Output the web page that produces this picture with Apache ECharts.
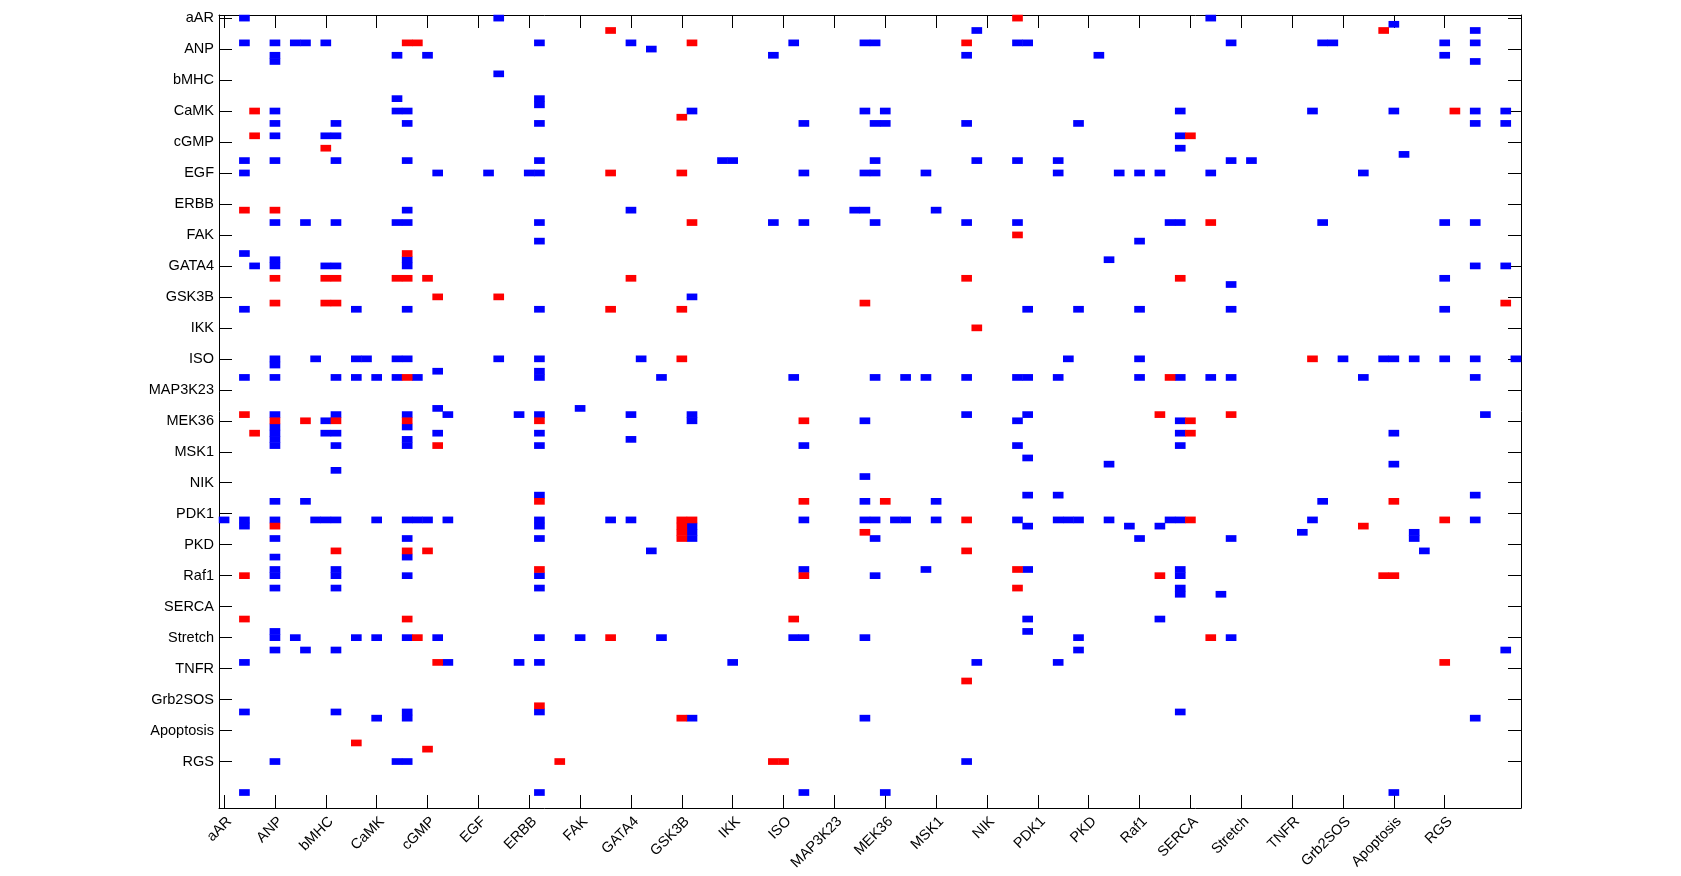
<!DOCTYPE html>
<html><head><meta charset="utf-8">
<script src="https://cdn.jsdelivr.net/npm/echarts@6/dist/echarts.min.js"></script>
<style>html,body{margin:0;padding:0;background:#fff}#c{width:1681px;height:876px}</style>
</head><body><div id="c"></div>
<script>
// tick labels (every 5th cell, starting at cell 1)
const nodeLabels = ['aAR','ANP','bMHC','CaMK','cGMP','EGF','ERBB','FAK','GATA4','GSK3B','IKK','ISO','MAP3K23','MEK36','MSK1','NIK','PDK1','PKD','Raf1','SERCA','Stretch','TNFR','Grb2SOS','Apoptosis','RGS'];
const cellCount = 128;
const labelStep = 5;

// blue cells: [row, [columns]] (1-based)
const blueByRow = [
  [1,[3,28,98]],[2,[116]],[3,[75,124]],
  [5,[3,6,8,9,11,32,41,57,64,65,79,80,100,109,110,121,124]],
  [6,[43]],[7,[6,18,21,55,74,87,121]],[8,[6,124]],[10,[28]],
  [14,[18,32]],[15,[32]],
  [16,[6,18,19,47,64,66,95,108,116,124,127]],
  [18,[6,12,19,32,58,65,66,74,85,124,127]],
  [20,[6,11,12,95]],[22,[95]],[23,[117]],
  [24,[3,6,12,19,32,50,51,65,75,79,83,100,102]],
  [26,[3,22,27,31,32,58,64,65,70,83,89,91,93,98,113]],
  [32,[19,41,63,64,71]],
  [34,[6,9,12,18,19,32,55,58,65,74,79,94,95,109,121,124]],
  [37,[32,91]],[39,[3]],[40,[6,19,88]],[41,[4,6,11,12,19,124,127]],
  [43,[121]],[44,[100]],[46,[47]],
  [48,[3,14,19,32,80,85,91,100,121]],
  [56,[6,10,14,15,18,19,28,32,42,84,91,111,115,116,118,121,124,128]],
  [57,[6]],[58,[22,32]],
  [59,[3,6,12,14,16,18,20,32,44,57,65,68,70,74,79,80,83,91,95,98,100,113,124]],
  [64,[22,36]],
  [65,[6,12,19,23,30,32,41,47,74,80,125]],
  [66,[11,47,64,79,95]],[67,[6,19]],
  [68,[6,11,12,22,32,95,116]],[69,[6,19,41]],
  [70,[6,12,19,32,58,79,95]],
  [72,[80]],[73,[88,116]],[74,[12]],[75,[64]],
  [78,[32,80,83,124]],[79,[6,9,64,71,109]],
  [82,[1,3,6,10,11,12,16,19,20,21,23,32,39,41,58,64,65,67,68,71,79,83,84,85,88,94,95,108,124]],
  [83,[3,32,47,80,90,93]],[84,[47,107,118]],
  [85,[6,19,32,47,65,91,100,118]],
  [87,[43,119]],[88,[6,19]],
  [90,[6,12,58,70,80,95]],[91,[6,12,19,32,65,95]],
  [93,[6,12,32,95]],[94,[95,99]],
  [98,[80,93]],[100,[6,80]],
  [101,[6,8,14,16,19,22,32,36,44,57,58,64,85,100]],
  [103,[6,9,12,85,127]],
  [105,[3,23,30,32,51,75,83]],
  [113,[3,12,19,32,95]],[114,[16,19,47,64,124]],
  [121,[6,18,19,74]],[126,[3,32,58,66,116]]
];

// red cells: [row, [columns]] (1-based)
const redByRow = [
  [1,[79]],[3,[39,115]],[5,[19,20,47,74]],[16,[4,122]],[17,[46]],
  [20,[4,96]],[22,[11]],[26,[39,46]],[32,[3,6]],[34,[47,98]],
  [36,[79]],[39,[19]],[43,[6,11,12,18,19,21,41,74,95]],
  [46,[22,28]],[47,[6,11,12,64,127]],[48,[39,46]],[51,[75]],
  [56,[46,108]],[59,[19,94]],[65,[3,93,100]],
  [66,[6,9,12,19,32,58,96]],[68,[4,96]],[70,[22]],
  [79,[32,58,66,116]],[82,[46,47,74,96,121]],[83,[6,46,113]],
  [84,[46,64]],[85,[46]],[87,[12,19,21,74]],[90,[32,79]],
  [91,[3,58,93,115,116]],[93,[79]],[98,[3,19,57]],
  [101,[20,39,98]],[105,[22,121]],[108,[74]],[112,[32]],
  [114,[46]],[118,[14]],[119,[21]],[121,[34,55,56]]
];

const cats = [];
for (let i = 1; i <= cellCount; i++) cats.push(String(i));
const data = [];
blueByRow.forEach(([r, cs]) => cs.forEach(c => data.push([c - 1, r - 1, 1])));
redByRow.forEach(([r, cs]) => cs.forEach(c => data.push([c - 1, r - 1, -1])));

const showIdx = (i) => i % labelStep === 0 && i / labelStep < nodeLabels.length;
const fmt = (v, i) => (showIdx(i) ? nodeLabels[i / labelStep] : '');
const lineStyle = {color: '#000', width: 1};
const font = {fontFamily: 'Liberation Sans, Arial, sans-serif', fontSize: 14.5, color: '#000'};
const tick = {show: true, inside: true, length: 13, alignWithLabel: true, interval: showIdx, lineStyle};

const chart = echarts.init(document.getElementById('c'), null, {renderer: 'canvas'});
chart.setOption({
  animation: false,
  backgroundColor: '#fff',
  grid: {left: 219, top: 15, width: 1302, height: 793, containLabel: false},
  visualMap: {type: 'piecewise', show: false, dimension: 2, seriesIndex: 0,
    pieces: [{value: 1, color: '#0000ff'}, {value: -1, color: '#ff0000'}]},
  xAxis: [
    {type: 'category', data: cats, position: 'bottom',
     axisLine: {show: true, lineStyle}, splitLine: {show: false}, axisTick: tick,
     axisLabel: Object.assign({show: true, interval: showIdx, formatter: fmt, rotate: 45,
       margin: 6, verticalAlign: 'top', align: 'right'}, font)},
    {type: 'category', data: cats, position: 'top',
     axisLine: {show: true, lineStyle}, splitLine: {show: false}, axisTick: tick,
     axisLabel: {show: false}}
  ],
  yAxis: [
    {type: 'category', data: cats, inverse: true, position: 'left',
     axisLine: {show: true, lineStyle}, splitLine: {show: false}, axisTick: tick,
     axisLabel: Object.assign({show: true, interval: showIdx, formatter: fmt, margin: 5}, font)},
    {type: 'category', data: cats, inverse: true, position: 'right',
     axisLine: {show: true, lineStyle}, splitLine: {show: false}, axisTick: tick,
     axisLabel: {show: false}}
  ],
  series: [{
    type: 'heatmap', xAxisIndex: 0, yAxisIndex: 0, data: data,
    itemStyle: {borderWidth: 0}, emphasis: {disabled: true}, silent: true
  }]
});
</script></body></html>
